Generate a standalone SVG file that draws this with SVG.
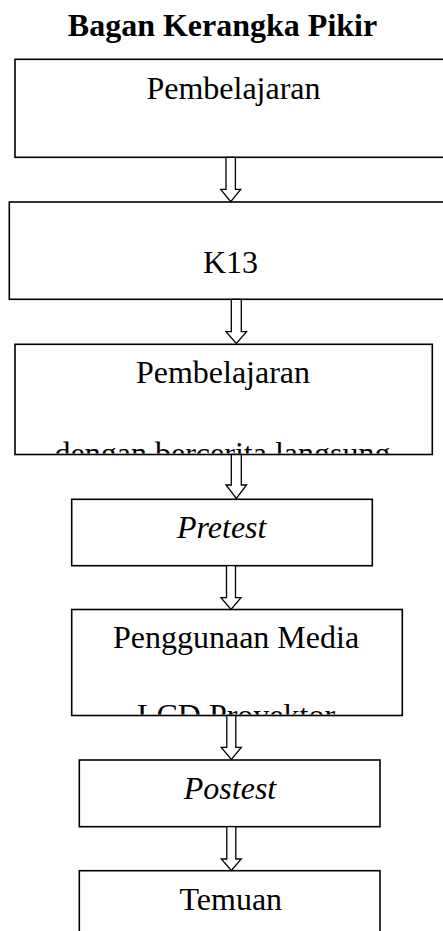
<svg xmlns="http://www.w3.org/2000/svg" width="443" height="931" viewBox="0 0 443 931">
<style>
.bx{fill:#fff;stroke:#000;stroke-width:1.6}
.ar{fill:#fff;stroke:#000;stroke-width:1.3;stroke-linejoin:miter}
.t{font-family:"Liberation Serif","Times New Roman",serif;font-size:32px;fill:#000;text-anchor:middle}
.i{font-style:italic}
.h{font-weight:bold}
</style>
<defs>
<clipPath id="c3"><rect x="16" y="345" width="415" height="108.5"/></clipPath>
<clipPath id="c5"><rect x="72.5" y="610" width="329" height="104.5"/></clipPath>
</defs>
<rect width="443" height="931" fill="#fff"/>
<text class="t h" x="222.5" y="36">Bagan Kerangka Pikir</text>
<g id="n1">
<rect class="bx" x="15" y="59.3" width="440" height="98"/>
<text class="t" x="233.5" y="99">Pembelajaran</text>
</g>
<g id="n2">
<rect class="bx" x="9.3" y="202" width="445" height="97.3"/>
<text class="t" x="230.5" y="273.3">K13</text>
</g>
<g id="n3">
<rect class="bx" x="15" y="344.3" width="417.3" height="110.2"/>
<g clip-path="url(#c3)">
<text class="t" x="223" y="383.3">Pembelajaran</text>
<text class="t" x="222.5" y="464">dengan bercerita langsung</text>
</g>
</g>
<g id="n4">
<rect class="bx" x="71.7" y="499.3" width="300.6" height="66.4"/>
<text class="t i" x="221.7" y="538.3">Pretest</text>
</g>
<g id="n5">
<rect class="bx" x="71.7" y="609.5" width="330.6" height="106"/>
<g clip-path="url(#c5)">
<text class="t" x="236" y="648.3">Penggunaan Media</text>
<text class="t" x="236" y="726">LCD Proyektor</text>
</g>
</g>
<g id="n6">
<rect class="bx" x="79.3" y="760" width="300.7" height="66.7"/>
<text class="t i" x="230" y="799.3">Postest</text>
</g>
<g id="n7">
<rect class="bx" x="79.3" y="870.7" width="300.7" height="80"/>
<text class="t" x="230.8" y="910">Temuan</text>
</g>
<g id="connectors">
<polygon class="ar" points="226,157.3 235.4,157.3 235.4,189.3 240.7,189.3 230.7,201.7 220.7,189.3 226,189.3"/>
<polygon class="ar" points="231.3,299.3 241.3,299.3 241.3,331.7 246.6,331.7 236.3,343.5 226,331.7 231.3,331.7"/>
<polygon class="ar" points="231.3,454.5 241.3,454.5 241.3,485 246.6,485 236.3,498.5 226,485 231.3,485"/>
<polygon class="ar" points="226.5,565.7 235.5,565.7 235.5,597.7 241,597.7 231,609.5 221,597.7 226.5,597.7"/>
<polygon class="ar" points="226.8,715.5 235.8,715.5 235.8,747.3 241.3,747.3 231.3,759.5 221.3,747.3 226.8,747.3"/>
<polygon class="ar" points="226.8,826.7 235.8,826.7 235.8,859 241.3,859 231.3,870.5 221.3,859 226.8,859"/>
</g>
</svg>
